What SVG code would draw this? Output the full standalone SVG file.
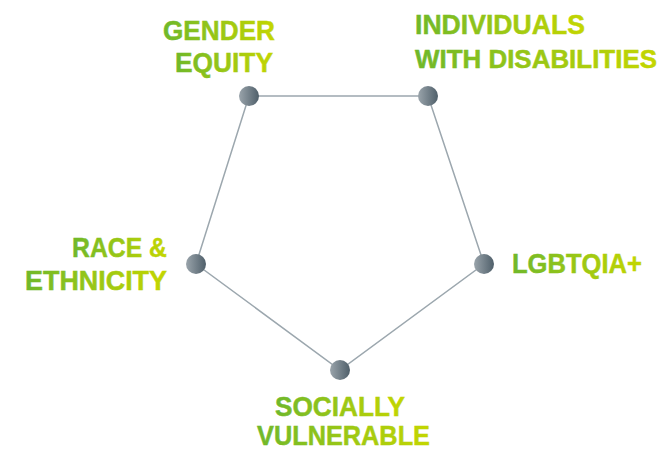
<svg xmlns="http://www.w3.org/2000/svg" width="665" height="451" viewBox="0 0 665 451">
<defs>
<linearGradient id="tg" x1="0" y1="0" x2="1" y2="0">
<stop offset="0" stop-color="#6fb82a"/>
<stop offset="1" stop-color="#c4d600"/>
</linearGradient>
<linearGradient id="ng" x1="0" y1="0" x2="1" y2="0">
<stop offset="0" stop-color="#9aa4ab"/>
<stop offset="1" stop-color="#4f5f6a"/>
</linearGradient>
</defs>
<style>
.t{font-family:"Liberation Sans",Arial,sans-serif;font-weight:700;font-size:28px;fill:url(#tg);stroke:url(#tg);stroke-width:0.5}
.n{fill:url(#ng)}
.c{stroke:#9ca7ae;stroke-width:1.5;fill:none}
</style>
<rect width="665" height="451" fill="#ffffff"/>
<g id="connectors">
<polygon class="c" points="249,96 428,96 484,264 340,370 196,264"/>
</g>
<g id="gender">
<circle class="n" cx="249" cy="96" r="10"/>
<text class="t" x="163" y="40" textLength="112" lengthAdjust="spacingAndGlyphs">GENDER</text>
<text class="t" x="175" y="72" textLength="98" lengthAdjust="spacingAndGlyphs">EQUITY</text>
</g>
<g id="disabilities">
<circle class="n" cx="428" cy="96" r="10"/>
<text class="t" x="415" y="34" textLength="170" lengthAdjust="spacingAndGlyphs">INDIVIDUALS</text>
<text class="t" x="415" y="68" style="font-size:26px" textLength="242" lengthAdjust="spacingAndGlyphs">WITH DISABILITIES</text>
</g>
<g id="lgbtqia">
<circle class="n" cx="484" cy="264" r="10"/>
<text class="t" x="512" y="273" textLength="130" lengthAdjust="spacingAndGlyphs">LGBTQIA+</text>
</g>
<g id="socially">
<circle class="n" cx="340" cy="370" r="10"/>
<text class="t" x="275" y="416" textLength="130" lengthAdjust="spacingAndGlyphs">SOCIALLY</text>
<text class="t" x="257" y="445" textLength="173" lengthAdjust="spacingAndGlyphs">VULNERABLE</text>
</g>
<g id="race">
<circle class="n" cx="196" cy="264" r="10"/>
<text class="t" x="72" y="257" textLength="95" lengthAdjust="spacingAndGlyphs">RACE &amp;</text>
<text class="t" x="25" y="290" textLength="142" lengthAdjust="spacingAndGlyphs">ETHNICITY</text>
</g>
</svg>
